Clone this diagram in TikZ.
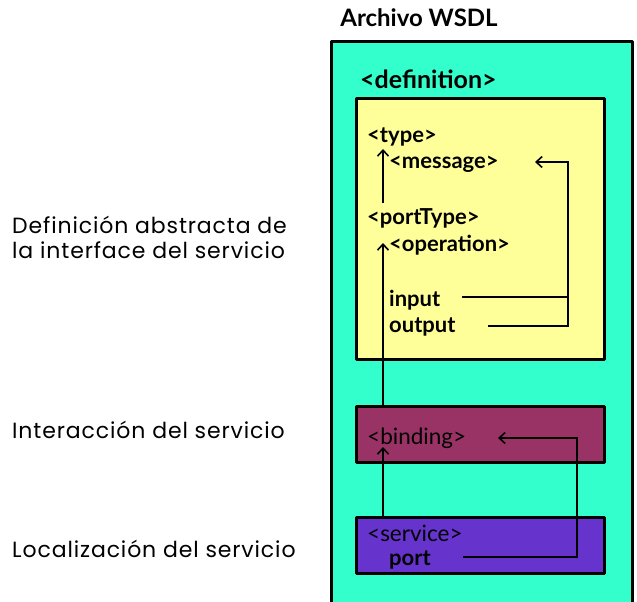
\documentclass[tikz,border=0pt]{standalone}
\usepackage{fontspec}
\setmainfont{Lato}
\newfontfamily\labelfont[LetterSpace=4]{Poppins}
\usetikzlibrary{arrows.meta}
\definecolor{wsdlteal}{RGB}{51,255,204}
\definecolor{defyellow}{RGB}{255,255,153}
\definecolor{bindplum}{RGB}{153,51,102}
\definecolor{servpurple}{RGB}{102,51,204}
\tikzset{
  box/.style={draw=black, line width=3pt, line join=round},
  tag/.style={anchor=west, inner sep=0pt, font=\fontsize{22}{24}\selectfont\bfseries},
  plaintag/.style={anchor=west, inner sep=0pt, font=\fontsize{22.5}{24}\selectfont},
  side/.style={anchor=west, inner sep=0pt, align=left, font=\labelfont\fontsize{22}{25}\selectfont},
  link/.style={line width=1.6pt},
  arr/.style={link, -{Straight Barb[length=6pt,width=11pt,line width=1.6pt]}},
}
\begin{document}
\begin{tikzpicture}[x=1pt,y=-1pt]
\useasboundingbox (0,0) rectangle (637,602);
\begin{scope}
\clip (0,0) rectangle (637,602);
% outer WSDL file
\filldraw[box, fill=wsdlteal] (331,42) rectangle (632,640);
\end{scope}
\node[anchor=center, inner sep=0pt, font=\fontsize{24}{26}\selectfont\bfseries] (title) at (419,18) {Archivo WSDL};
\node[tag, font=\fontsize{25}{27}\selectfont\bfseries] (def) at (360,79) {<definition>};
% inner blocks
\filldraw[box, fill=defyellow] (356,98) rectangle (604,359);
\filldraw[box, fill=bindplum] (356,406) rectangle (604,462);
\filldraw[box, fill=servpurple] (356,517) rectangle (604,573);
% tags
\node[tag] (type) at (367,137) {<type>};
\node[tag] (message) at (389,164) {<message>};
\node[tag] (porttype) at (367,218) {<portType>};
\node[tag] (operation) at (389,245) {<operation>};
\node[tag] (input) at (389,300) {input};
\node[tag] (output) at (389,327) {output};
\node[plaintag] (binding) at (367,438) {<binding>};
\node[plaintag] (service) at (367,533) {<service>};
\node[tag] (port) at (389,560) {port};
% side labels
\node[side] (abs) at (12,237) {Definición abstracta de\\la interface del servicio};
\node[side] (inter) at (12,430) {Interacción del servicio};
\node[side] (loc) at (12,549) {Localización del servicio};
% connector points
\coordinate (ptsrc) at (383,203);
\coordinate (typetip) at (383,149);
\coordinate (bindtop) at (383,406);
\coordinate (optip) at (383,243);
\coordinate (servtop) at (383,517);
\coordinate (bindtip) at (383,447);
\coordinate (ioright) at (568,162);
\coordinate (msgtip) at (535,162);
\coordinate (instart) at (462,297);
\coordinate (outstart) at (488,326);
\coordinate (portstart) at (463,557);
\coordinate (portright) at (577,438);
\coordinate (bindrtip) at (498,438);
% portType -> type
\draw[arr] (ptsrc) -- (typetip);
% binding -> operation
\draw[arr] (bindtop) -- (optip);
% service -> binding
\draw[arr] (servtop) -- (bindtip);
% input/output -> message
\draw[link] (instart) -- (instart -| ioright);
\draw[arr] (outstart) -| (ioright) -- (msgtip);
% port -> binding
\draw[arr] (portstart) -| (portright) -- (bindrtip);
\end{tikzpicture}
\end{document}
